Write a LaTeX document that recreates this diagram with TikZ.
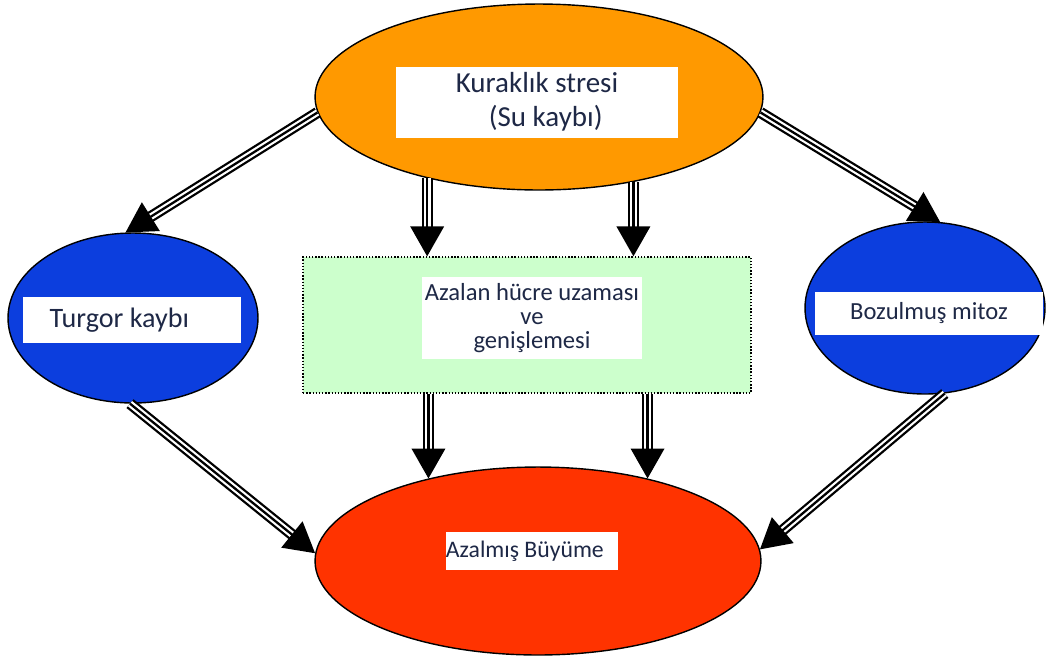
\documentclass[tikz,border=0pt]{standalone}
\usepackage{fontspec}
\setmainfont{Carlito}
\usetikzlibrary{shapes.geometric,arrows.meta}
\definecolor{stresorange}{RGB}{255,153,0}
\definecolor{kayipblue}{RGB}{12,62,222}
\definecolor{hucregreen}{RGB}{204,255,204}
\definecolor{buyumered}{RGB}{255,51,0}
\definecolor{yazi}{RGB}{30,40,70}
\begin{document}
\begin{tikzpicture}[x = 0.02cm, y = 0.02cm, line width = 0.8pt,
  oval/.style = {ellipse, draw = black, inner sep = 0pt},
  whitebox/.style = {fill = white, inner sep = 0pt, text = yazi, align = center},
  tri/.style = {line width = 1.3pt, -{Triangle[length = 17pt, width = 19pt]},
    preaction = {draw, -, line width = 6.4pt, shorten >= 12pt},
    preaction = {draw, -, white, line width = 3.8pt, shorten >= 12pt}}]
\useasboundingbox (0, 0) rectangle (1047, -657);
% shapes
\node[oval, fill = stresorange, minimum width = 8.96cm, minimum height = 3.72cm] (stres) at (539, -97) {};
\node[oval, fill = kayipblue, minimum width = 5cm, minimum height = 3.4cm] (turgor) at (133, -318) {};
\node[oval, fill = kayipblue, minimum width = 4.8cm, minimum height = 3.44cm] (mitoz) at (925, -308) {};
\node[draw = black, densely dotted, fill = hucregreen, inner sep = 0pt, minimum width = 8.96cm, minimum height = 2.72cm] (hucre) at (527, -325) {};
\node[oval, fill = buyumered, minimum width = 8.92cm, minimum height = 3.76cm] (buyume) at (538, -561) {};
% labels
\node[whitebox, minimum width = 5.64cm, minimum height = 1.42cm, font = \fontsize{16.5}{19.5}\selectfont] (stresT) at (537, -102) {Kuraklık stresi\\\hspace{0.6em}(Su kaybı)};
\node[whitebox, minimum width = 4.38cm, minimum height = 0.92cm, font = \fontsize{16}{19}\selectfont] (turgorT) at (132, -320) {Turgor kaybı\hspace{0.9em}};
\node[whitebox, minimum width = 4.58cm, minimum height = 0.86cm, font = \fontsize{14}{17}\selectfont] (mitozT) at (929, -313) {Bozulmuş mitoz};
\node[whitebox, minimum width = 4.42cm, minimum height = 1.64cm, font = \fontsize{14}{13.8}\selectfont] (hucreT) at (532, -318) {Azalan hücre uzaması\\ve\hspace{1.2em}\\genişlemesi\hspace{2.5em}};
\node[whitebox, minimum width = 3.42cm, minimum height = 0.76cm, font = \fontsize{13.5}{16}\selectfont] (buyumeT) at (532, -551) {Azalmış Büyüme\hspace{0.6em}};
% arrows
\draw[tri] (stres.184) -- (turgor.95);
\draw[tri] (stres.356) -- (mitoz.80);
\foreach \a in {216, 318}{\draw[tri] (stres.\a) -- (stres.\a |- hucre.north);}
\foreach \a in {143, 37}{\draw[tri] (buyume.\a |- hucre.south) -- (buyume.\a);}
\draw[tri] (turgor.268) -- (buyume.178);
\draw[tri] (mitoz.283) -- (buyume.3);
\end{tikzpicture}
\end{document}
